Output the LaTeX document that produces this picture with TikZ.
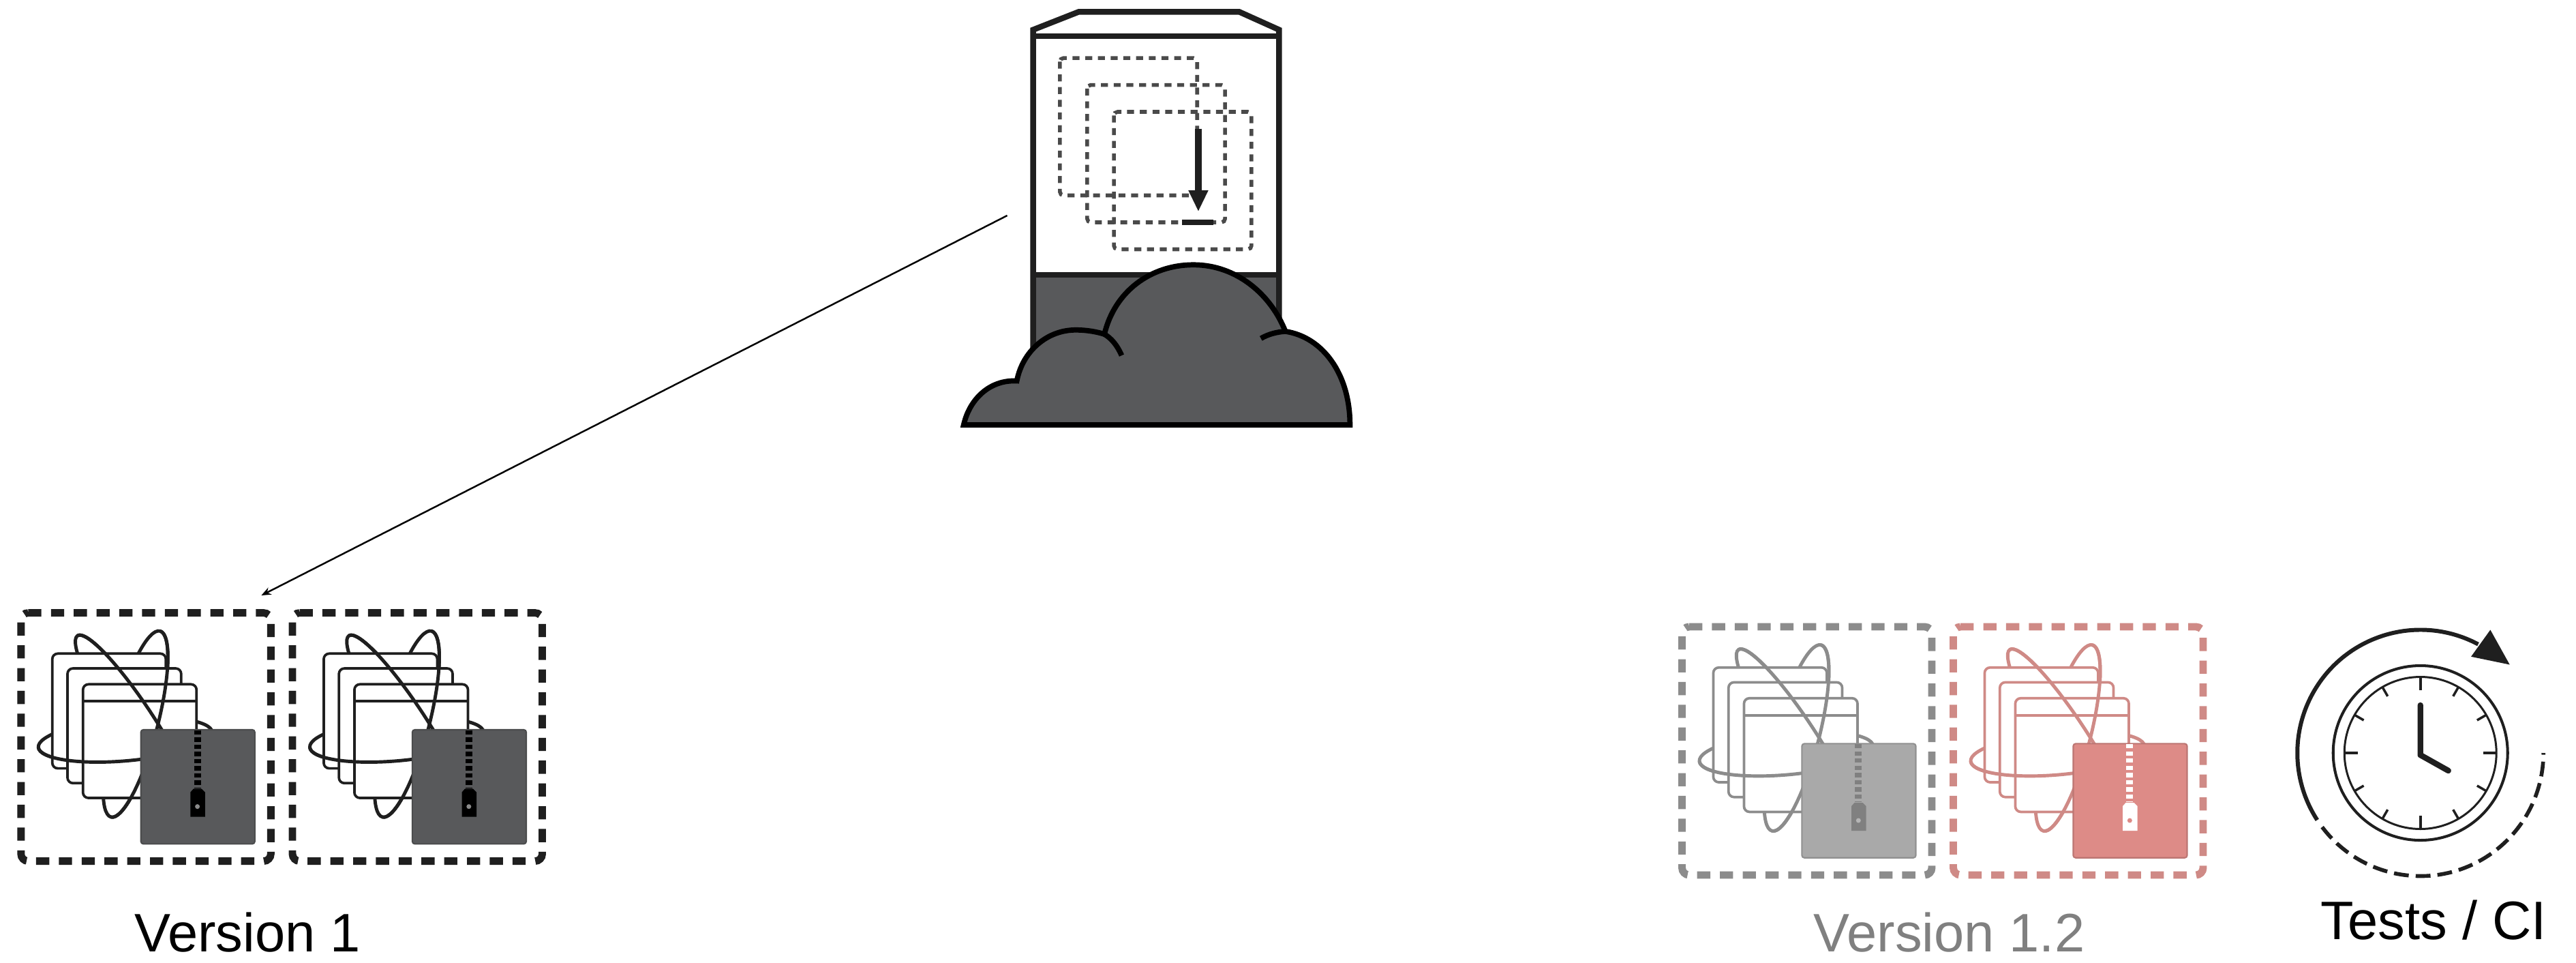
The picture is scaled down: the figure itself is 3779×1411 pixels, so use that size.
\documentclass[tikz,border=0pt]{standalone}
\usepackage{fontspec}
\setmainfont{Liberation Sans}
\usetikzlibrary{arrows.meta}
\definecolor{inkdark}{HTML}{1F1F1F}
\definecolor{fillDark}{HTML}{58595B}
\definecolor{inkgray}{HTML}{8C8C8C}
\definecolor{fillGray}{HTML}{A9A9A9}
\definecolor{zipGray}{HTML}{808080}
\definecolor{inkred}{HTML}{CF8A86}
\definecolor{fillRed}{HTML}{DD8B87}
\definecolor{dotGray}{HTML}{8A8A8A}
\definecolor{dotLight}{HTML}{B5B5B5}
\definecolor{dashInk}{HTML}{4A4A4A}
\tikzset{
  label text/.style={inner sep=0pt,anchor=base west,font=\fontsize{22.6pt}{26pt}\selectfont},
  dash box/.style={line width=3.1pt,rounded corners=3pt,dash pattern=on 5.5pt off 4pt},
  window box/.style={line width=1.05pt,fill=white,rounded corners=2.3pt},
  orbit line/.style={line width=1.4pt},
  small square/.style={line width=1.6pt,draw=dashInk,dash pattern=on 2.9pt off 2.4pt},
  clock tick/.style={line width=1pt,draw=inkdark},
  clock hand/.style={line width=2.4pt,draw=inkdark,line cap=round,line join=round}
}
\newcommand{\pkgicon}[6]{%
  \begin{scope}[shift={(#1,#2)}]
    \draw[dash box,draw=#3] (2,1) -- (368.5,1) -- (368.5,365) -- (2,365) -- cycle;
    \begin{scope}[shift={(170,164)},rotate=75.2]
      \draw[orbit line,draw=#3] (0,0) ellipse[x radius=141,y radius=32];
    \end{scope}
    \begin{scope}[shift={(170,164)},rotate=123.3]
      \draw[orbit line,draw=#3] (0,0) ellipse[x radius=155,y radius=28];
    \end{scope}
    \begin{scope}[shift={(155,187)},rotate=5]
      \draw[orbit line,draw=#3] (0,0) ellipse[x radius=128,y radius=31];
    \end{scope}
    \draw[window box,draw=#3] (47.9,60.7) rectangle (214.5,229);
    \draw[window box,draw=#3] (70.2,82.4) rectangle (237,250.7);
    \draw[window box,draw=#3] (92.9,105.7) rectangle (259.5,272.4);
    \draw[line width=1.05pt,draw=#3] (92.9,130.7) -- (259.5,130.7);
    \begin{scope}[shift={(170,164)},rotate=75.2]
      \draw[orbit line,draw=#3] plot[domain=0:180,samples=50,smooth] ({141*cos(\x)},{32*sin(\x)});
    \end{scope}
    \begin{scope}[shift={(170,164)},rotate=123.3]
      \draw[orbit line,draw=#3] plot[domain=0:180,samples=50,smooth] ({155*cos(\x)},{28*sin(\x)});
    \end{scope}
    \begin{scope}[shift={(155,187)},rotate=5]
      \draw[orbit line,draw=#3] plot[domain=0:180,samples=50,smooth] ({128*cos(\x)},{31*sin(\x)});
    \end{scope}
    \fill[#4,draw=#4!85!black,line width=0.6pt,rounded corners=1pt] (177.9,172.4) rectangle (345,339.7);
    \draw[line width=2.8pt,draw=#5,dash pattern=on 1.8pt off 1.2pt] (260.8,173) -- (260.8,258);
    \fill[#5] (250.5,264) -- (255,259) -- (267,259) -- (272,264) -- (272,300) -- (250.5,300) -- cycle;
    \fill[#6] (260.8,285) circle[radius=3.5];
  \end{scope}%
}
\begin{document}
\begin{tikzpicture}[x=0.01cm,y=-0.01cm,line join=miter]
\useasboundingbox (0,0) rectangle (3779,1411);

% server and cloud
\begin{scope}[shift={(1380,0)},x=0.0042087cm,y=-0.0041494cm]
  \fill[white] (322,105) -- (480,42) -- (1040,42) -- (1178,105) -- (1178,970) -- (322,970) -- cycle;
  \fill[fillDark] (322,970) rectangle (1178,1260);
  \draw[line width=2.4pt,draw=inkdark] (322,1260) -- (322,105) -- (480,42) -- (1040,42) -- (1178,105) -- (1178,1260);
  \draw[line width=2.3pt,draw=inkdark] (322,128) -- (1178,128);
  \draw[line width=2.3pt,draw=inkdark] (322,970) -- (1178,970);
  \draw[small square,rounded corners=1.5pt] (415,205) rectangle (893,690);
  \draw[small square,rounded corners=1.5pt] (510,300) rectangle (990,785);
  \draw[small square,rounded corners=1.5pt] (603,395) rectangle (1082,880);
  \draw[line width=2.6pt,draw=inkdark] (897,455) -- (897,690);
  \fill[inkdark] (862,672) -- (932,672) -- (897,745) -- cycle;
  \draw[line width=2.4pt,draw=inkdark] (840,785) -- (950,785);
  \draw[line width=2.2pt,draw=black,fill=fillDark,line join=miter]
    (80,1500) .. controls (100,1410) and (170,1340) .. (265,1345)
    .. controls (285,1240) and (370,1165) .. (470,1165)
    .. controls (510,1165) and (545,1172) .. (570,1180)
    .. controls (605,1030) and (730,935) .. (880,935)
    .. controls (1030,935) and (1150,1040) .. (1200,1170)
    .. controls (1330,1190) and (1425,1320) .. (1425,1500) -- cycle;
  \draw[line width=2.2pt,draw=black] (570,1180) .. controls (595,1195) and (615,1220) .. (630,1255);
  \draw[line width=2.2pt,draw=black] (1115,1195) .. controls (1140,1180) and (1170,1172) .. (1200,1170);
\end{scope}

% connector
\coordinate (serverEnd) at (1477.6,316);
\coordinate (packageEnd) at (383.4,873);
\draw[line width=0.7pt,draw=black,-{Stealth[length=4pt,width=3.2pt]}] (serverEnd) -- (packageEnd);

% packages
\pkgicon{28.8}{897.6}{inkdark}{fillDark}{black}{dotGray}
\pkgicon{427}{897.6}{inkdark}{fillDark}{black}{dotGray}
\pkgicon{2465.5}{918}{inkgray}{fillGray}{zipGray}{dotLight}
\pkgicon{2863.5}{918}{inkred}{fillRed}{white}{fillRed}

% labels
\node[label text,text=black] (versionOne) at (197,1395.7) {Version 1};
\node[label text,text=zipGray] (versionTwo) at (2660,1395.5) {Version 1.2};
\node[label text,text=black] (testsCi) at (3404,1377.3) {Tests / CI};

% clock
\begin{scope}[shift={(3550.7,1104)}]
  \draw[line width=1.15pt,draw=inkdark] (0,0) circle[radius=128];
  \draw[line width=0.85pt,draw=inkdark] (0,0) circle[radius=111.5];
  \foreach \a in {0,90,180,270}
    \draw[clock tick] (\a:111) -- (\a:92);
  \foreach \a in {30,60,120,150,210,240,300,330}
    \draw[clock tick] (\a:111) -- (\a:96);
  \draw[clock hand] (0,-70) -- (0,3) -- (41,26);
  \draw[line width=1.7pt,draw=inkdark] (-62:180.5) arc[start angle=-62,end angle=-213,radius=180.5];
  \draw[line width=1.6pt,draw=inkdark,dash pattern=on 6.2pt off 2.9pt] (143:180.5) arc[start angle=143,end angle=0,radius=180.5];
  \fill[inkdark] (102.6,-180.5) -- (131,-129.5) -- (74.3,-141.2) -- cycle;
\end{scope}
\end{tikzpicture}
\end{document}
